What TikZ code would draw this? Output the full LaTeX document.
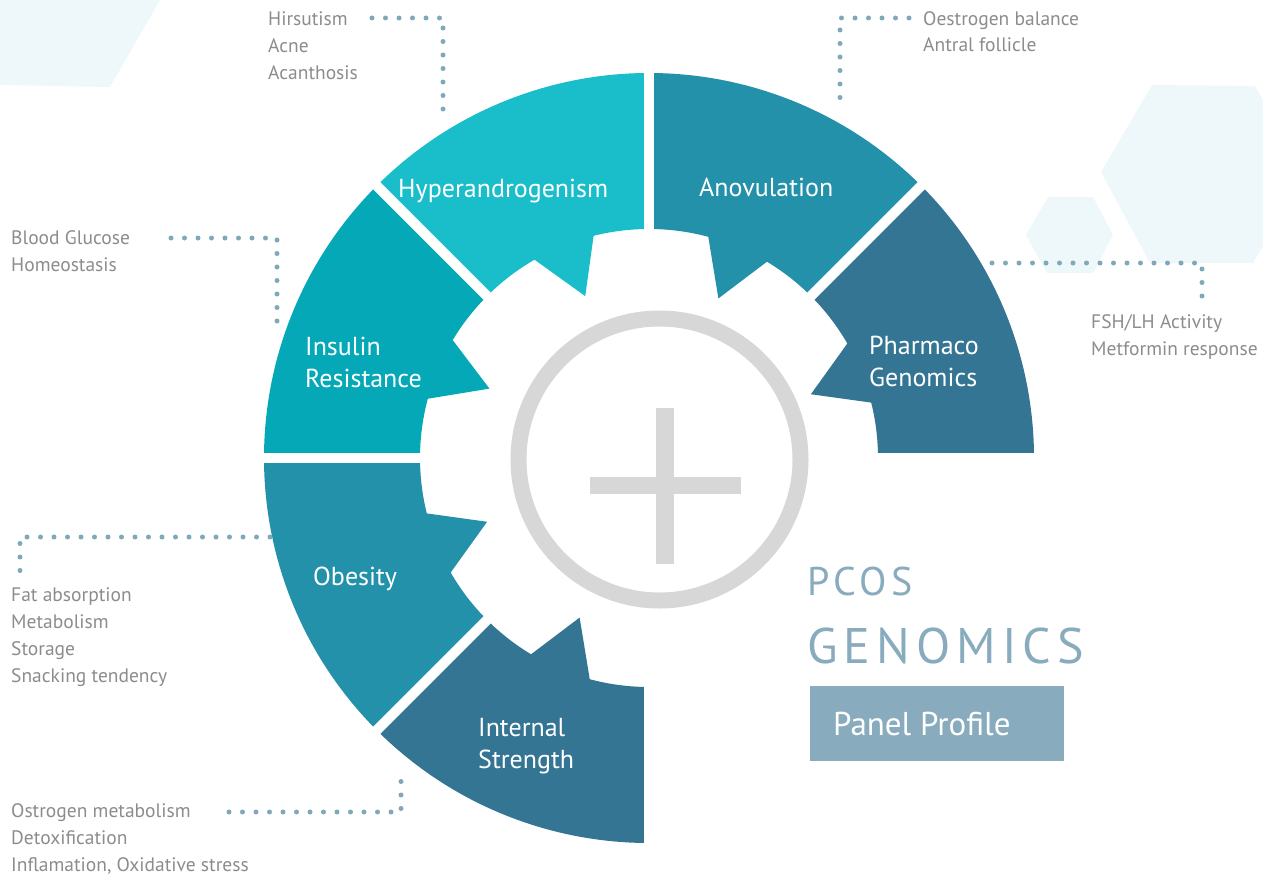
\documentclass[tikz,border=0pt]{standalone}
\usepackage{fontspec}
\setmainfont{PT Sans}
\usepackage{tikz}
\usetikzlibrary{positioning}
\definecolor{segcyan}{HTML}{1ABDCA}
\definecolor{segteal}{HTML}{05A8B6}
\definecolor{segblue}{HTML}{2391A9}
\definecolor{segnavy}{HTML}{347593}
\definecolor{ringgray}{HTML}{D7D7D7}
\definecolor{dotblue}{HTML}{7FA8BA}
\definecolor{notegray}{HTML}{8C8C8C}
\definecolor{titleblue}{HTML}{88ABBD}
\definecolor{hexbg}{HTML}{EEF7F9}

\begin{document}
\begin{tikzpicture}[x=1pt, y=1pt,
  seglabel/.style={text=white, font=\fontsize{26}{32}\selectfont, align=left, inner sep=0pt, anchor=base west},
  note/.style={text=notegray, font=\fontsize{19.5}{26.7}\selectfont, align=left, inner sep=0pt, anchor=base west},
  dotline/.style={dotblue, line width=5pt, line cap=round, dash pattern=on 0pt off 13.5pt}]
\useasboundingbox (0,0) rectangle (1263,-875);
% faint hexagons
\fill[hexbg] (0,0) -- (160,0) -- (110,-87) -- (0,-85) -- cycle;
\fill[hexbg] (1101,-172) -- (1152,-85) -- (1255,-86) -- (1263,-100) -- (1263,-246) -- (1253,-263) -- (1150,-263) -- cycle;
\fill[hexbg] (1026,-235) -- (1048,-197) -- (1093,-197) -- (1113,-235) -- (1093,-273) -- (1047,-273) -- cycle;

% ring of six segments
\begin{scope}[shift={(649,-458)}]
\foreach \a/\c [evaluate=\a as \b using \a+45, evaluate=\a as \t using \a+30,
                evaluate=\a as \m using \a+21.5, evaluate=\a as \s using \a+14]
    in {0/segnavy, 45/segblue, 90/segcyan, 135/segteal, 180/segblue, 225/segnavy}
  \fill[\c] (\a:385) arc[start angle=\a, end angle=\b, radius=385]
    -- (\b:229) arc[start angle=\b, end angle=\t, radius=229]
    -- (\m:174) -- (\s:229)
    arc[start angle=\s, end angle=\a, radius=229] -- cycle;
\foreach \a in {0,45,...,270}
  \draw[white, line width=10pt] (0,0) -- (\a:400);
\end{scope}

% centre plus
\draw[ringgray, line width=16pt] (659.5,-459.5) circle[radius=141];
\fill[ringgray] (656,-408) rectangle (674,-564);
\fill[ringgray] (590,-477) rectangle (741,-494);

\node[seglabel] (hyper) at (398,-197) {Hyperandrogenism};
\node[seglabel] (anov) at (699,-196) {Anovulation};
\node[seglabel] (insul) at (305,-387) {Insulin\\Resistance};
\node[seglabel] (pharm) at (869,-386) {Pharmaco\\Genomics};
\node[seglabel] (obes) at (313,-585) {Obesity};
\node[seglabel] (inter) at (478,-768) {Internal\\Strength};

\node[note] (lhirs) at (268,-79) {Hirsutism\\Acne\\Acanthosis};
\node[note] (lgluc) at (11,-271) {Blood Glucose\\Homeostasis};
\node[note] (loest) at (923,-52) {Oestrogen balance\\Antral follicle};
\node[note] (lfsh) at (1091,-355) {FSH/LH Activity\\Metformin response};
\node[note] (lfat) at (11,-682) {Fat absorption\\Metabolism\\Storage\\Snacking tendency};
\node[note] (lostr) at (11,-871) {Ostrogen metabolism\\Detoxification\\Inflamation, Oxidative stress};

\coordinate (hirsA) at (372,-18);   \coordinate (hirsB) at (443,-111);
\coordinate (glucA) at (171,-238);  \coordinate (glucB) at (277,-325);
\coordinate (oestA) at (909,-18);   \coordinate (oestB) at (840,-111);
\coordinate (fshA) at (992,-263);   \coordinate (fshB) at (1202,-299);
\coordinate (fatA) at (270,-537);   \coordinate (fatB) at (20,-571);
\coordinate (ostrA) at (229,-812);  \coordinate (ostrB) at (401,-771);
\draw[dotline] (hirsA) -| (hirsB);
\draw[dotline] (glucA) -| (glucB);
\draw[dotline] (oestA) -| (oestB);
\draw[dotline] (fshA) -| (fshB);
\draw[dotline] (fatA) -| (fatB);
\draw[dotline] (ostrA) -| (ostrB);

\node[anchor=base west, inner sep=0pt, text=titleblue, font=\fontsize{40}{40}\selectfont\addfontfeature{LetterSpace=11}] (pcos) at (807,-595) {PCOS};
\node[anchor=base west, inner sep=0pt, text=titleblue, font=\fontsize{50}{50}\selectfont\addfontfeature{LetterSpace=12}] (genom) at (807,-663) {GENOMICS};
\node[fill=titleblue, minimum width=254, minimum height=75, anchor=north west, inner sep=0pt] (panel) at (810,-686) {};
\node[anchor=base west, inner sep=0pt, text=white, font=\fontsize{33}{33}\selectfont] (ptext) at (833,-735) {Panel Profile};
\end{tikzpicture}
\end{document}
